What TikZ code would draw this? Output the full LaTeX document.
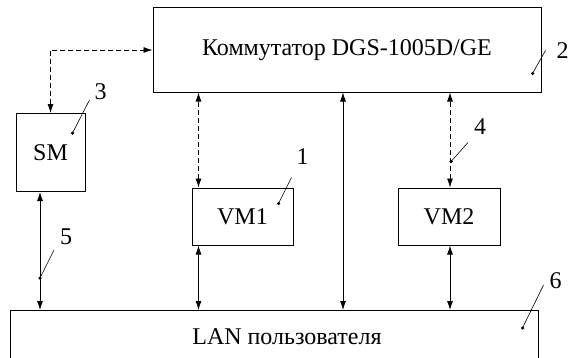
\documentclass[tikz,border=0pt]{standalone}
\usepackage{fontspec}
\setmainfont{Liberation Serif}
\usetikzlibrary{positioning,arrows.meta,calc}

\begin{document}
\begin{tikzpicture}[
  x=1pt, y=1pt,
  font=\fontsize{24}{28}\selectfont,
  box/.style={draw, line width=1pt, inner sep=0pt, align=center},
  link/.style={{Latex[length=9pt,width=6pt]}-{Latex[length=9pt,width=6pt]}, line width=0.8pt},
  dlink/.style={link, dash pattern=on 5pt off 3pt},
  lead/.style={line width=0.6pt},
  num/.style={inner sep=0pt},
  pin/.style={circle, fill, inner sep=0pt, minimum size=3.5pt},
]
\useasboundingbox (0,0) rectangle (580,357);

% ─── blocks ────────────────────────────────────────────────────────────────
\node[box, minimum width=388pt, minimum height=84pt] (sw) at (347,307)
  {Коммутатор DGS-1005D/GE};
\node[box, minimum width=101pt, minimum height=57pt,
      below=95pt of sw.south west, anchor=north west, xshift=39pt] (vm1) {VM1};
\node[box, minimum width=102pt, minimum height=57pt, right=104pt of vm1] (vm2) {VM2};
\node[box, minimum width=69pt, minimum height=78pt,
      below left=63pt and 67pt of sw.west] (sm) {SM};
\node[box, minimum width=528pt, minimum height=52pt,
      below=118pt of sm.south west, anchor=north west, xshift=-6pt] (lan)
  {\hspace*{26pt}LAN пользователя};

% ─── links ─────────────────────────────────────────────────────────────────
\draw[dlink] (sm.north) |- (sw.west);
\draw[dlink] ([xshift=7pt]vm1.north west) -- ([xshift=7pt]vm1.north west |- sw.south);
\draw[dlink] ([xshift=1pt]vm2.north) -- ([xshift=1pt]vm2.north |- sw.south);
\draw[link] ([xshift=7pt]vm1.south west) -- ([xshift=7pt]vm1.south west |- lan.north);
\draw[link] ([xshift=1pt]vm2.south) -- ([xshift=1pt]vm2.south |- lan.north);
\draw[link] ([xshift=-4pt]sw.south) -- ([xshift=-4pt]sw.south |- lan.north);
\draw[link] ([xshift=-10.5pt]sm.south) -- ([xshift=-10.5pt]sm.south |- lan.north);

% ─── callouts ──────────────────────────────────────────────────────────────
\newcommand{\callout}[4]{%
  \node[pin] (c#1dot) at #2 {};
  \coordinate (c#1top) at ($(c#1dot)+#3$);
  \node[num] (c#1) at ($(c#1top)+#4$) {#1};
  \draw[lead] (c#1dot.center) -- (c#1top);
}
\callout{1}{($(vm1.north east)+(-15,-16)$)}{(13,26)}{(11,21)}
\callout{2}{($(sw.south east)+(-9,19)$)}{(13,23)}{(17,0)}
\callout{3}{($(sm.north east)+(-13,-20)$)}{(17,33)}{(11,8)}
\callout{4}{($(vm2.north)+(2,26)$)}{(17,19)}{(12,16)}
\callout{5}{($(sm.south)+(-10.5,-86)$)}{(14,28)}{(12,13)}
\callout{6}{($(lan.north east)+(-16,-18)$)}{(21,43)}{(12,4)}

\end{tikzpicture}
\end{document}
